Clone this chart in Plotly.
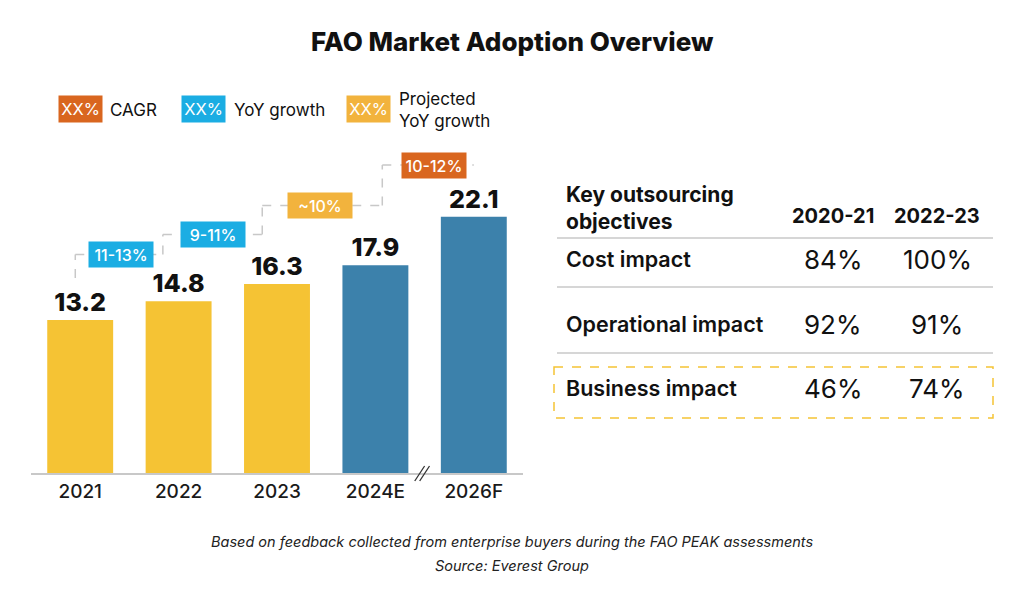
import plotly.graph_objects as go

# ---------------- data ----------------
years = ["2021", "2022", "2023", "2024E", "2026F"]
market_size = [13.2, 14.8, 16.3, 17.9, 22.1]
bar_kind = ["actual", "actual", "actual", "forecast", "forecast"]

growth_labels = ["11-13%", "9-11%", "~10%", "10-12%"]
growth_kind = ["yoy", "yoy", "proj", "cagr"]

legend_kinds = ["cagr", "yoy", "proj"]
legend_texts = ["CAGR", "YoY growth", "Projected<br>YoY growth"]

table_header = ["Key outsourcing<br>objectives", "2020-21", "2022-23"]
objectives = ["Cost impact", "Operational impact", "Business impact"]
share_2020_21 = [84, 92, 46]
share_2022_23 = [100, 91, 74]
highlight_row = "Business impact"

title_text = "FAO Market Adoption Overview"
footnote = "Based on feedback collected from enterprise buyers during the FAO PEAK assessments"
source = "Source: Everest Group"

# ---------------- styles / layout ----------------
W, H = 1024, 608
FONT = "Inter, Poppins, Noto Sans, sans-serif"
INK = "#111111"
kind_color = {"actual": "#F5C334", "forecast": "#3C81AB",
              "yoy": "#1BADE3", "proj": "#F2B33D", "cagr": "#D9661F"}
GRID = "#c8c8c8"

def px(x):
    return x / W

def py(y):
    return 1 - y / H

def note(x, y, text, size, weight=400, xanchor="center", color=INK, style="normal", **kw):
    return dict(x=px(x), y=py(y), xref="paper", yref="paper", text=text, showarrow=False,
                xanchor=xanchor, yanchor="middle", align=xanchor if xanchor != "center" else "center",
                font=dict(family=FONT, size=size, color=color, weight=weight, style=style), **kw)

# bar plot area (pixels)
PLOT_L, PLOT_R, PLOT_B, PLOT_T = 31, 523, 473, 80
Y_MAX = (PLOT_B - PLOT_T) / 11.6

# growth-box positions (category index, value units)
growth_x = [0.41, 1.35, 2.44, 3.60]
growth_y = [18.84, 20.56, 23.06, 26.55]
# dashed connector path (category index, value units)
conn = [(-0.05, 16.8), (-0.05, 18.84), (0.84, 18.84), (0.84, 20.56),
        (1.85, 20.56), (1.85, 23.06), (3.07, 23.06), (3.07, 26.55), (4.0, 26.55)]

fig = go.Figure()
fig.add_trace(go.Bar(
    x=years, y=market_size,
    marker=dict(color=[kind_color[k] for k in bar_kind], line=dict(width=0)),
    text=[f"{v:.1f}" for v in market_size],
    textposition="outside", constraintext="none", cliponaxis=False,
    textfont=dict(family=FONT, size=25, color=INK, weight=800),
    hoverinfo="skip",
))

shapes = []
for (x0, y0), (x1, y1) in zip(conn[:-1], conn[1:]):
    shapes.append(dict(type="line", xref="x", yref="y", x0=x0, y0=y0, x1=x1, y1=y1,
                       line=dict(color=GRID, width=1.5, dash="dash"), layer="above"))
# axis break marks between 2024E and 2026F
for dx in (0.0, 0.05):
    shapes.append(dict(type="line", xref="x", yref="paper",
                       x0=3.40 + dx, y0=py(481), x1=3.50 + dx, y1=py(466),
                       line=dict(color="#333333", width=1.3), layer="above"))

annotations = []
for lab, kind, gx, gy in zip(growth_labels, growth_kind, growth_x, growth_y):
    annotations.append(dict(x=gx, y=gy, xref="x", yref="y", text=lab, showarrow=False,
                            xanchor="center", yanchor="middle",
                            width=64, height=25, bgcolor=kind_color[kind], borderpad=0,
                            font=dict(family=FONT, size=16, color="white", weight=500)))

# title
annotations.append(note(512, 42, title_text, 26, weight=800))

# legend
legend_box_x = [80, 203, 368]
legend_text_x = [108, 232, 397]
for kind, txt, bx, tx in zip(legend_kinds, legend_texts, legend_box_x, legend_text_x):
    annotations.append(note(bx, 109, "XX%", 16.5, color="white", width=43, height=26,
                            bgcolor=kind_color[kind], borderpad=0))
    annotations.append(note(tx, 110, txt, 17, xanchor="left"))

# table
COL_LABEL_X, COL1_X, COL2_X = 564, 833, 937
TBL_L, TBL_R = 557, 993
annotations.append(note(COL_LABEL_X, 208, table_header[0], 21, weight=700, xanchor="left"))
for hx, ht in zip([COL1_X, COL2_X], table_header[1:]):
    annotations.append(note(hx, 216, ht, 20, weight=700))
row_y = [259, 324, 388]
for obj, a, b, ry in zip(objectives, share_2020_21, share_2022_23, row_y):
    annotations.append(note(COL_LABEL_X, ry, obj, 21.5, weight=600, xanchor="left"))
    for cx, v in zip([COL1_X, COL2_X], [a, b]):
        annotations.append(note(cx, ry, f"{v}%", 26))
for ly in [238, 287, 353]:
    shapes.append(dict(type="line", xref="paper", yref="paper", x0=px(TBL_L), x1=px(TBL_R),
                       y0=py(ly), y1=py(ly), line=dict(color=GRID, width=1.5)))
hi = objectives.index(highlight_row)
shapes.append(dict(type="rect", xref="paper", yref="paper", x0=px(554), x1=px(TBL_R),
                   y0=py(row_y[hi] - 21), y1=py(row_y[hi] + 30),
                   line=dict(color=kind_color["actual"], width=1.5, dash="dash")))

# footnotes
annotations.append(note(512, 542, footnote, 14.5, color="#222222", style="italic"))
annotations.append(note(512, 565, source, 14.5, color="#222222", style="italic"))

fig.update_layout(
    width=W, height=H, margin=dict(l=0, r=0, t=0, b=0),
    paper_bgcolor="white", plot_bgcolor="white", showlegend=False,
    bargap=0.33,
    xaxis=dict(domain=[px(PLOT_L), px(PLOT_R)], type="category", range=[-0.5, 4.5],
               showline=True, linecolor=GRID, linewidth=1.5, ticks="", showgrid=False,
               tickfont=dict(family=FONT, size=19, color="#1a1a1a", weight=500), fixedrange=True),
    yaxis=dict(domain=[py(PLOT_B), py(PLOT_T)], range=[0, Y_MAX], visible=False, fixedrange=True),
    shapes=shapes, annotations=annotations,
)

fig.write_html("out.html")
